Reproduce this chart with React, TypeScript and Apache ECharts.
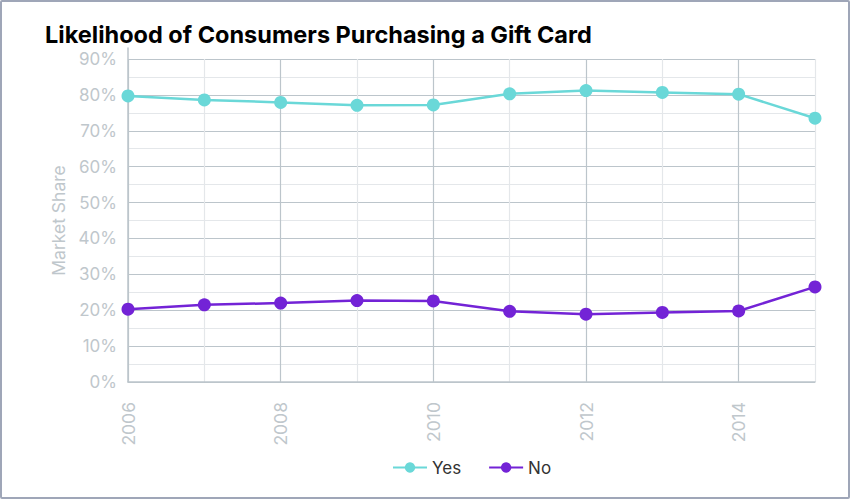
import React, { useEffect, useRef } from "react";
import * as echarts from "echarts";

const years = [2006, 2007, 2008, 2009, 2010, 2011, 2012, 2013, 2014, 2015];
const yesValues = [79.7, 78.6, 77.9, 77.1, 77.2, 80.3, 81.2, 80.7, 80.2, 73.5];
const noValues = [20.3, 21.5, 22.0, 22.7, 22.6, 19.7, 18.9, 19.4, 19.8, 26.5];
const seriesNames = ["Yes", "No"];
const titleText = "Likelihood of Consumers Purchasing a Gift Card";
const yAxisName = "Market Share";

const FONT = "Inter, 'Noto Sans', sans-serif";
const GRID_DARK = "#bcc5cb";
const GRID_LIGHT = "#e4e7ea";
const LABEL = "#bfc7cc";

export default function App() {
  const ref = useRef<HTMLDivElement>(null);

  useEffect(() => {
    if (!ref.current) return;
    const chart = echarts.init(ref.current, null, { renderer: "svg" });
    const toPairs = (vals: number[]) => years.map((y, i) => [y, vals[i]]);
    chart.setOption({
      animation: false,
      backgroundColor: "#ffffff",
      textStyle: { fontFamily: FONT },
      title: {
        text: titleText,
        left: 38,
        top: 15,
        textStyle: { fontFamily: FONT, fontSize: 23.5, fontWeight: "bold", color: "#000000" },
      },
      legend: {
        bottom: 16,
        left: 385,
        itemWidth: 34,
        itemHeight: 13,
        itemGap: 27,
        textStyle: { fontFamily: FONT, fontSize: 17, color: "#333333" },
        data: seriesNames,
      },
      grid: [
        { left: 126, right: 33, top: 57, bottom: 115 },
        { left: 126, right: 33, top: 46, bottom: 115 },
      ],
      xAxis: [
        {
          type: "value",
          gridIndex: 0,
          min: 2006,
          max: 2015,
          interval: 1,
          axisLine: { show: true, lineStyle: { color: GRID_DARK, width: 1.5 } },
          axisTick: { show: false },
          axisLabel: {
            rotate: 90,
            margin: 20,
            color: LABEL,
            fontSize: 17.5,
            fontFamily: FONT,
            formatter: (v: number) => (v % 2 === 0 && v < 2015 ? String(v) : ""),
          },
          splitLine: { show: true, lineStyle: { color: [GRID_DARK, GRID_LIGHT], width: 1.2 } },
        },
        { type: "value", gridIndex: 1, show: false, min: 0, max: 1 },
      ],
      yAxis: [
        {
          type: "value",
          gridIndex: 0,
          min: 0,
          max: 90,
          interval: 5,
          offset: 5,
          name: yAxisName,
          nameLocation: "middle",
          nameGap: 53,
          nameTextStyle: { color: LABEL, fontSize: 17.5, fontFamily: FONT },
          axisLine: { show: false },
          axisTick: { show: false },
          axisLabel: {
            color: LABEL,
            fontSize: 17,
            fontFamily: FONT,
            margin: 6,
            formatter: (v: number) => (v % 10 === 0 ? v + "%" : ""),
          },
          splitLine: { show: true, lineStyle: { color: [GRID_DARK, GRID_LIGHT], width: 1.2 } },
        },
        {
          type: "value",
          gridIndex: 1,
          min: 0,
          max: 1,
          offset: 5,
          axisLine: { show: true, lineStyle: { color: GRID_DARK, width: 1.5 } },
          axisTick: { show: false },
          axisLabel: { show: false },
          splitLine: { show: false },
        },
      ],
      series: [
        {
          name: seriesNames[0],
          type: "line",
          xAxisIndex: 0,
          yAxisIndex: 0,
          data: toPairs(yesValues),
          symbol: "circle",
          symbolSize: 13,
          itemStyle: { color: "#6ad8d8" },
          lineStyle: { color: "#6ad8d8", width: 2.5 },
        },
        {
          name: seriesNames[1],
          type: "line",
          xAxisIndex: 0,
          yAxisIndex: 0,
          data: toPairs(noValues),
          symbol: "circle",
          symbolSize: 13,
          itemStyle: { color: "#7323d6" },
          lineStyle: { color: "#7323d6", width: 2.5 },
        },
      ],
    });
    return () => chart.dispose();
  }, []);

  return (
    <div
      style={{
        position: "fixed",
        left: 0,
        top: 0,
        width: 850,
        height: 499,
        boxSizing: "border-box",
        border: "2px solid #9fa6b8",
        borderRadius: 2,
        background: "#ffffff",
      }}
    >
      <div ref={ref} style={{ width: 846, height: 495 }} />
    </div>
  );
}
